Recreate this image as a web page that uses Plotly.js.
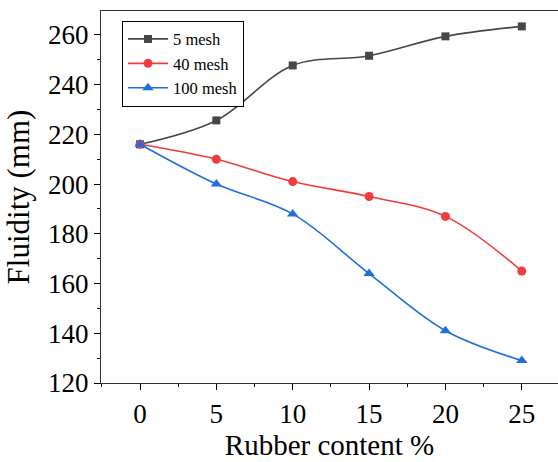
<!DOCTYPE html>
<html>
<head>
<meta charset="utf-8">
<script src="https://cdn.plot.ly/plotly-3.0.1.min.js"></script>
<style>html,body{margin:0;padding:0;background:#fff;}#chart{width:558px;height:462px;}</style>
</head>
<body>
<div id="chart"></div>
<script>
const rubberContent = [0, 5, 10, 15, 20, 25];
const mesh5 = [216, 225.6, 247.7, 251.6, 259.4, 263.4];
const mesh40 = [216, 210, 201, 195, 187, 165];
const mesh100 = [216, 200, 188, 164, 141, 129];
const seriesNames = ['5 mesh', '40 mesh', '100 mesh'];
const xTicks = [0, 5, 10, 15, 20, 25];
const yTicks = [120, 140, 160, 180, 200, 220, 240, 260];

const font = 'Liberation Serif';
function tr(y, name, color, symbol, size) {
  return {
    x: rubberContent, y: y, name: name, type: 'scatter', mode: 'lines+markers',
    line: {color: color, width: 1.6, shape: 'spline', smoothing: 1},
    marker: {color: color, symbol: symbol, size: size}
  };
}
const data = [
  tr(mesh5, seriesNames[0], '#474747', 'square', 8),
  tr(mesh40, seriesNames[1], '#f03c3c', 'circle', 9),
  tr(mesh100, seriesNames[2], '#1f6fdf', 'triangle-up', 10)
];
const layout = {
  width: 558, height: 462,
  font: {family: font, color: '#000', size: 16},
  margin: {l: 101, r: 0, t: 11, b: 79},
  paper_bgcolor: '#fff', plot_bgcolor: '#fff',
  showlegend: true,
  legend: {
    x: 0.046, y: 0.974, xanchor: 'left', yanchor: 'top',
    bordercolor: '#000', borderwidth: 1, bgcolor: '#fff',
    font: {family: font, size: 16.5, color: '#000'},
    tracegroupgap: 0, itemwidth: 40
  },
  xaxis: {
    range: [-2.554, 27.37], tickvals: xTicks, ticktext: xTicks.map(String),
    ticks: 'outside', ticklen: 6, tickwidth: 1, tickcolor: '#000',
    minor: {dtick: 2.5, tick0: 0, ticks: 'outside', ticklen: 3, tickcolor: '#000'},
    showline: true, linecolor: '#333', linewidth: 1.2, mirror: true,
    showgrid: false, zeroline: false,
    tickfont: {family: font, size: 27, color: '#000'},
    title: {text: 'Rubber content %', font: {family: font, size: 29, color: '#000'}, standoff: 4}
  },
  yaxis: {
    range: [120, 269.6], tickvals: yTicks, ticktext: yTicks.map(String),
    ticks: 'outside', ticklen: 6, tickwidth: 1, tickcolor: '#000',
    minor: {dtick: 10, tick0: 0, ticks: 'outside', ticklen: 3, tickcolor: '#000'},
    showline: true, linecolor: '#333', linewidth: 1.2, mirror: false,
    showgrid: false, zeroline: false,
    tickfont: {family: font, size: 27, color: '#000'},
    title: {text: 'Fluidity (mm)', font: {family: font, size: 31, color: '#000'}, standoff: 9}
  }
};
Plotly.newPlot('chart', data, layout, {displayModeBar: false, staticPlot: true});
</script>
</body>
</html>
